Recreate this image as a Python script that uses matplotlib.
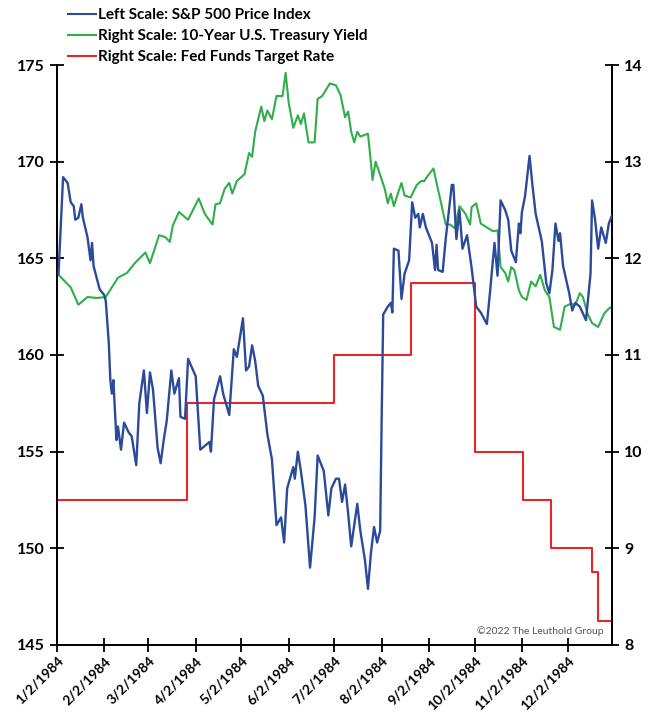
import pandas as pd
import matplotlib.pyplot as plt
from matplotlib.lines import Line2D

# S&P 500 price index (left scale)
spx_dates = ["01-03", "01-06", "01-09", "01-11", "01-13", "01-14", "01-16", "01-18", "01-19", "01-22", "01-24", "01-25", "01-26", "01-30",
             "02-02", "02-03", "02-05", "02-06", "02-07", "02-08", "02-10", "02-11", "02-13", "02-15", "02-18", "02-20", "02-23", "02-25", "02-28",
             "03-01", "03-03", "03-05", "03-08", "03-10", "03-12", "03-14", "03-17", "03-19", "03-22", "03-23", "03-26", "03-28",
             "04-02", "04-05", "04-11", "04-12", "04-14", "04-18", "04-20", "04-24", "04-27", "04-29",
             "05-03", "05-05", "05-07", "05-09", "05-11", "05-13", "05-16", "05-19", "05-22", "05-25", "05-28", "05-30",
             "06-01", "06-05", "06-06", "06-08", "06-10", "06-13", "06-16", "06-19", "06-21", "06-25", "06-28", "06-30",
             "07-03", "07-05", "07-07", "07-09", "07-11", "07-13", "07-15", "07-17", "07-19", "07-22", "07-24", "07-26", "07-28", "07-30",
             "08-01", "08-02", "08-03", "08-06", "08-08", "08-09", "08-10", "08-13", "08-15", "08-17", "08-20", "08-22", "08-24", "08-26", "08-27", "08-29", "08-31",
             "09-04", "09-06", "09-07", "09-08", "09-11", "09-13", "09-17", "09-18", "09-20", "09-22", "09-24", "09-27", "09-30",
             "10-03", "10-06", "10-10", "10-12", "10-15", "10-17", "10-19", "10-22", "10-24", "10-26", "10-29", "10-31",
             "11-01", "11-02", "11-04", "11-07", "11-09", "11-11", "11-15", "11-18", "11-20", "11-22", "11-24", "11-26", "11-27", "11-29",
             "12-03", "12-05", "12-07", "12-10", "12-14", "12-16", "12-17", "12-18", "12-20", "12-22", "12-24", "12-27", "12-29", "12-31"]
spx = [164.2, 169.2, 168.9, 167.9, 167.7, 167.0, 167.1, 167.8, 167.1, 166.1, 164.9, 165.8, 164.6, 163.4,
       163.1, 162.8, 160.6, 158.7, 158.0, 158.7, 155.6, 156.3, 155.1, 156.5, 156.0, 155.8, 154.3, 157.5, 159.2,
       157.0, 159.1, 158.2, 155.2, 154.4, 155.6, 156.6, 159.2, 158.0, 158.8, 156.8, 156.7, 159.8,
       158.9, 155.1, 155.5, 155.0, 157.7, 158.9, 158.0, 156.9, 160.3, 159.9,
       161.9, 159.2, 159.4, 160.5, 159.7, 158.4, 157.9, 155.9, 154.6, 151.2, 151.6, 150.3,
       153.1, 154.2, 153.6, 155.0, 154.0, 152.2, 149.0, 151.6, 154.8, 154.0, 151.7, 153.1,
       153.6, 153.6, 152.4, 153.3, 151.8, 150.1, 151.2, 152.3, 150.9, 149.4, 147.9, 149.8, 151.1, 150.3,
       150.9, 156.8, 162.1, 162.5, 162.7, 162.2, 165.5, 165.4, 162.9, 164.2, 164.9, 167.9, 167.1, 167.3, 166.6, 167.3, 166.6,
       165.8, 164.4, 165.7, 164.4, 164.3, 166.0, 168.8, 168.8, 166.0, 167.5, 165.5, 166.2, 164.5,
       162.5, 162.2, 161.6, 163.2, 165.8, 164.1, 168.0, 167.5, 167.0, 165.4, 164.8, 166.8,
       166.3, 167.4, 168.2, 170.3, 168.7, 167.3, 165.9, 163.7, 163.2, 164.4, 166.8, 165.9, 166.3, 164.6,
       163.2, 162.3, 162.7, 162.5, 161.8, 163.4, 164.2, 168.0, 167.0, 165.5, 166.6, 165.8, 166.8, 167.2]

# 10-year treasury yield (right scale)
tsy_dates = ["01-03", "01-11", "01-16", "01-22", "01-28",
             "02-03", "02-11", "02-17", "02-22", "02-29",
             "03-03", "03-09", "03-13", "03-16", "03-18", "03-22", "03-28",
             "04-04", "04-08", "04-13", "04-15", "04-18", "04-21", "04-24", "04-26", "04-29",
             "05-04", "05-07", "05-09", "05-11", "05-15", "05-17", "05-19", "05-22", "05-25", "05-29", "05-31",
             "06-02", "06-05", "06-08", "06-10", "06-12", "06-15", "06-19", "06-21", "06-24", "06-29",
             "07-03", "07-06", "07-09", "07-11", "07-13", "07-15", "07-17", "07-19", "07-24", "07-26", "07-27", "07-29", "07-31",
             "08-04", "08-06", "08-08", "08-10", "08-13", "08-15", "08-17", "08-21", "08-25", "08-28", "08-30",
             "09-01", "09-05", "09-07", "09-10", "09-13", "09-16", "09-19", "09-22", "09-26", "09-29", "09-30",
             "10-03", "10-06", "10-11", "10-14", "10-17", "10-19", "10-22", "10-24", "10-26", "10-28", "10-31",
             "11-02", "11-05", "11-08", "11-11", "11-14", "11-17", "11-20", "11-23", "11-27", "11-30",
             "12-04", "12-07", "12-10", "12-12", "12-15", "12-18", "12-22", "12-26", "12-29", "12-31"]
tsy = [11.83, 11.70, 11.52, 11.60, 11.59,
       11.60, 11.80, 11.85, 11.95, 12.06,
       11.95, 12.24, 12.22, 12.17, 12.34, 12.48, 12.40,
       12.62, 12.46, 12.35, 12.56, 12.57, 12.72, 12.78, 12.67, 12.80,
       12.87, 13.09, 13.05, 13.31, 13.57, 13.42, 13.53, 13.44, 13.68, 13.68, 13.92,
       13.61, 13.35, 13.48, 13.39, 13.50, 13.20, 13.20, 13.65, 13.68, 13.81,
       13.79, 13.69, 13.46, 13.52, 13.31, 13.20, 13.31, 13.26, 13.29, 12.98, 12.81, 13.00, 12.91,
       12.72, 12.57, 12.67, 12.54, 12.69, 12.78, 12.65, 12.63, 12.76, 12.80, 12.80,
       12.85, 12.93, 12.78, 12.57, 12.35, 12.35, 12.31, 12.54, 12.46, 12.35, 12.53,
       12.57, 12.36, 12.31, 12.28, 12.29, 11.91, 11.85, 11.76, 11.91, 11.88, 11.67,
       11.60, 11.57, 11.76, 11.71, 11.83, 11.67, 11.60, 11.29, 11.26, 11.50,
       11.53, 11.52, 11.64, 11.60, 11.43, 11.33, 11.29, 11.43, 11.48, 11.50]

# fed funds target (right scale, step changes)
ff_dates = ["01-02", "03-27", "07-02", "08-21", "10-02", "11-03", "11-21", "12-18", "12-22", "12-31"]
ff = [9.5, 10.5, 11.0, 11.75, 10.0, 9.5, 9.0, 8.75, 8.25, 8.25]

tick_labels = ["1/2/1984", "2/2/1984", "3/2/1984", "4/2/1984", "5/2/1984", "6/2/1984",
               "7/2/1984", "8/2/1984", "9/2/1984", "10/2/1984", "11/2/1984", "12/2/1984"]


def to_dates(lst):
    return pd.to_datetime(["1984-" + d for d in lst])


plt.rcParams['font.family'] = ['Lato', 'DejaVu Sans']

blue = "#2c4a9a"
green = "#2fae4a"
red = "#e8252b"

fig = plt.figure(figsize=(6.49, 7.15), dpi=100)
ax = fig.add_axes([0.0878, 0.098, 0.855, 0.811])
ax2 = ax.twinx()

ax2.plot(to_dates(ff_dates), ff, color=red, lw=1.5, drawstyle='steps-post', zorder=2)
ax2.plot(to_dates(tsy_dates), tsy, color=green, lw=1.5, zorder=3)
ax.plot(to_dates(spx_dates), spx, color=blue, lw=1.7, zorder=4)
ax.set_zorder(ax2.get_zorder() + 1)
ax.patch.set_visible(False)

ax.set_xlim(pd.Timestamp("1984-01-02"), pd.Timestamp("1984-12-31"))
ax.set_ylim(145, 175)
ax2.set_ylim(8, 14)
ax.set_yticks(range(145, 176, 5))
ax2.set_yticks(range(8, 15))

xt = pd.to_datetime(["1984-%02d-02" % m for m in range(1, 13)])
ax.set_xticks(xt)
ax.set_xticklabels(tick_labels, rotation=45, ha='right', rotation_mode='anchor')

for a in (ax, ax2):
    a.spines['top'].set_visible(False)
    for s in a.spines.values():
        s.set_linewidth(1.3)
    a.tick_params(direction='inout', length=10, width=1.3, labelsize=11.5)
    for lab in a.get_yticklabels() + a.get_xticklabels():
        lab.set_fontweight('bold')
ax.tick_params(axis='x', labelsize=10, pad=2)
ax.tick_params(axis='y', pad=4)
ax2.tick_params(axis='y', pad=4)

ax.text(0.985, 0.015, "\u00a92022 The Leuthold Group", transform=ax.transAxes,
        ha='right', va='bottom', fontsize=7.5, color='#555555')

handles = [Line2D([], [], color=blue, lw=1.5),
           Line2D([], [], color=green, lw=1.5),
           Line2D([], [], color=red, lw=1.5)]
labels = ["Left Scale: S&P 500 Price Index",
          "Right Scale: 10-Year U.S. Treasury Yield",
          "Right Scale: Fed Funds Target Rate"]
leg = fig.legend(handles, labels, loc='upper left', bbox_to_anchor=(68 / 649, 1 - 8 / 715),
                 frameon=False, fontsize=11, handlelength=1.8, handletextpad=0.15,
                 labelspacing=0.47, borderpad=0, borderaxespad=0)
for t in leg.get_texts():
    t.set_fontweight('bold')

fig.savefig("out.png", dpi=100)
